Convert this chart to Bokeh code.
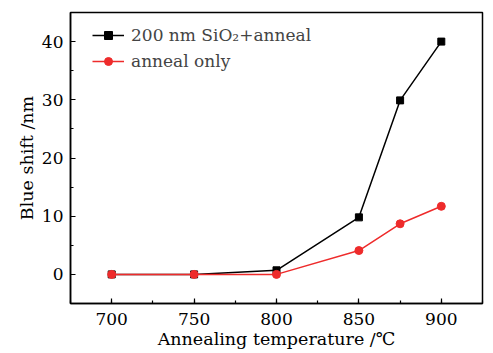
from bokeh.plotting import figure
from bokeh.models import SingleIntervalTicker, Range1d, Legend, LegendItem
from bokeh.embed import file_html
from bokeh.resources import INLINE

temps = [700, 750, 800, 850, 875, 900]
sio2_anneal = [0.0, 0.0, 0.7, 9.8, 29.9, 40.0]
anneal_only = [0.0, 0.0, 0.0, 4.1, 8.7, 11.7]
series_labels = ["200 nm SiO\u2082+anneal", "anneal only"]
x_label = "Annealing temperature /\u2103"
y_label = "Blue shift /nm"

FONT = "DejaVu Serif"
RED = "#ee2b2b"

p = figure(frame_width=412, frame_height=291, output_backend="svg", toolbar_location=None,
           x_range=Range1d(675, 925), y_range=Range1d(-5, 45),
           min_border_left=70, min_border_right=8, min_border_top=12, min_border_bottom=44)
p.background_fill_color = "white"
p.border_fill_color = "white"
p.grid.visible = False
p.outline_line_color = "black"
p.outline_line_width = 1.5

p.xaxis.ticker = SingleIntervalTicker(interval=50, num_minor_ticks=2)
p.yaxis.ticker = SingleIntervalTicker(interval=10, num_minor_ticks=2)
for ax in (p.xaxis, p.yaxis):
    ax.major_tick_in = 5
    ax.major_tick_out = 0
    ax.minor_tick_in = 3
    ax.minor_tick_out = 0
    ax.axis_line_width = 1.5
    ax.major_tick_line_width = 1.2
    ax.minor_tick_line_width = 1.2
    ax.major_label_text_font = FONT
    ax.major_label_text_font_size = "17px"
    ax.major_label_text_color = "black"
    ax.axis_label_text_font = FONT
    ax.axis_label_text_font_size = "17.5px"
    ax.axis_label_text_font_style = "normal"
    ax.axis_label_text_color = "black"
p.xaxis.axis_label = x_label
p.yaxis.axis_label = y_label
p.xaxis.major_label_standoff = 9
p.xaxis.axis_label_standoff = 1
p.yaxis.major_label_standoff = 7
p.yaxis.axis_label_standoff = 2
p.yaxis.major_label_orientation = "horizontal"

l1 = p.line(temps, sio2_anneal, line_color="black", line_width=1.5)
s1 = p.scatter(temps, sio2_anneal, marker="square", size=7, fill_color="black", line_color="black")
l2 = p.line(temps, anneal_only, line_color=RED, line_width=1.5)
s2 = p.scatter(temps, anneal_only, marker="circle", size=8, fill_color=RED, line_color=RED)

legend = Legend(items=[LegendItem(label=series_labels[0], renderers=[l1, s1]),
                       LegendItem(label=series_labels[1], renderers=[l2, s2])],
                location=(22, 232))
legend.border_line_color = None
legend.background_fill_alpha = 0
legend.label_text_font = FONT
legend.label_text_font_size = "17px"
legend.glyph_width = 32
legend.label_standoff = 7
legend.spacing = 6
legend.margin = 0
legend.padding = 8
p.add_layout(legend)

open("out.html", "w").write(file_html(p, INLINE))
